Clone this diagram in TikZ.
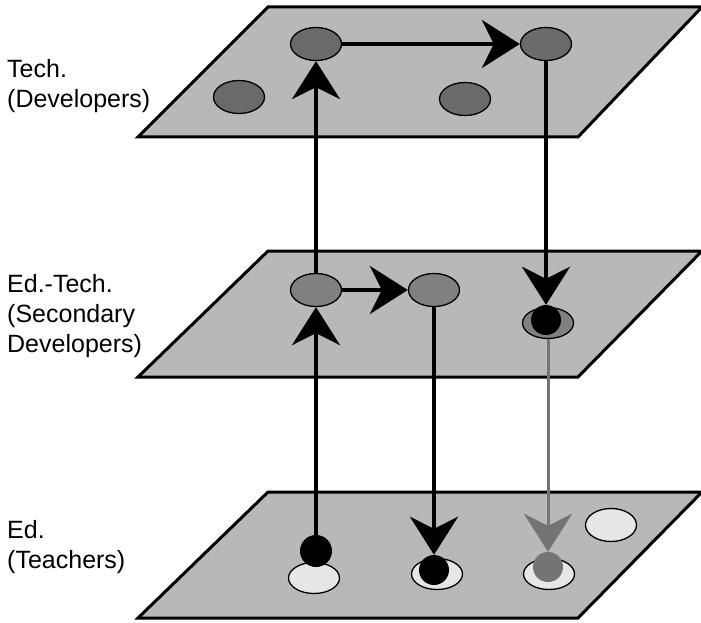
\documentclass[tikz,border=0pt]{standalone}
\usepackage{fontspec}
\setmainfont{Liberation Sans}
\usetikzlibrary{shapes.geometric,arrows.meta}
\definecolor{planegray}{HTML}{B8B8B8}
\definecolor{darkspot}{HTML}{6A6A6A}
\definecolor{midspot}{HTML}{808080}
\definecolor{lightspot}{HTML}{E6E6E6}
\definecolor{greyflow}{HTML}{747474}
\tikzset{flowtip/.tip={Stealth[length=38pt,width=48pt,inset=12pt]}}
\begin{document}
\begin{tikzpicture}[x=1pt,y=-1pt,
  plane/.style={fill=planegray,draw=black,line width=3pt,line join=miter},
  spot/.style={ellipse,draw=black,line width=1.3pt,minimum width=51pt,minimum height=33pt,inner sep=0pt},
  disc/.style={circle,draw=none,inner sep=0pt,minimum size=#1},
  flow/.style={line width=4pt,-flowtip},
  lvltext/.style={anchor=base west,font=\fontsize{25}{30}\selectfont,inner sep=0pt}]
\useasboundingbox (0,0) rectangle (701,623);

% three layers
\draw[plane] (268,7) -- (702,7) -- (578,137) -- (138,137) -- cycle;
\draw[plane] (268,251) -- (702,251) -- (578,377) -- (138,377) -- cycle;
\draw[plane] (268,492) -- (702,492) -- (578,618) -- (138,618) -- cycle;

% layer names
\node[lvltext] (techA) at (7,78) {Tech.};
\node[lvltext] (techB) at (7,108) {(Developers)};
\node[lvltext] (edtA) at (7,292) {Ed.-Tech.};
\node[lvltext] (edtB) at (7,322) {(Secondary};
\node[lvltext] (edtC) at (7,352) {Developers)};
\node[lvltext] (edA) at (7,538) {Ed.};
\node[lvltext] (edB) at (7,568) {(Teachers)};

% top layer
\node[spot,fill=darkspot] (A) at (316,44) {};
\node[spot,fill=darkspot] (B) at (239,97) {};
\node[spot,fill=darkspot] (C) at (546,44) {};
\node[spot,fill=darkspot] (D) at (465,99) {};

% middle layer
\node[spot,fill=midspot] (E) at (316,290) {};
\node[spot,fill=midspot] (F) at (434,290) {};
\node[spot,fill=midspot,minimum height=31pt] (G) at (548,323) {};
\node[disc=30pt,fill=black] (Gd) at (546,320) {};

% bottom layer
\node[spot,fill=lightspot,minimum height=31pt] (H) at (314,578) {};
\node[disc=32pt,fill=black] (Hd) at (316,551) {};
\node[spot,fill=lightspot,minimum height=31pt] (I) at (437,574) {};
\node[disc=30pt,fill=black] (Id) at (434,570) {};
\node[spot,fill=lightspot,minimum height=31pt] (J) at (549,574) {};
\node[disc=30pt,fill=greyflow] (Jd) at (548,567) {};
\node[spot,fill=lightspot] (K) at (611,525) {};

% flows between layers
\draw[flow] (Hd.north) -- (E.south);
\draw[flow] (E.north) -- (A.south);
\draw[flow] (A.east) -- (C.west);
\draw[flow] (C.south) -- (Gd.north);
\draw[flow] (E.east) -- (F.west);
\draw[flow] (F.south) -- (Id.north);
\draw[flow,greyflow,line width=3pt] (G.south) -- (Jd.north);
\end{tikzpicture}
\end{document}
